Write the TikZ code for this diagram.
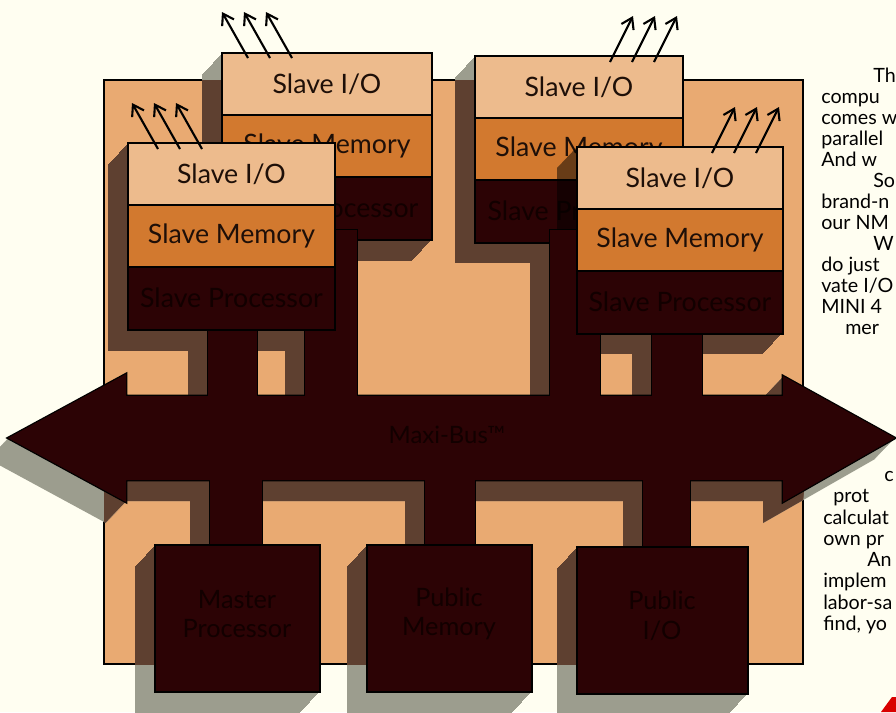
\documentclass[tikz,border=0pt]{standalone}
\usepackage{fontspec}
\setmainfont{Lato}
\usetikzlibrary{arrows.meta}

\definecolor{paper}{HTML}{FFFEF1}
\definecolor{boardtan}{HTML}{E9AA72}
\definecolor{iotan}{HTML}{EDBB8D}
\definecolor{memorange}{HTML}{D2792F}
\definecolor{procred}{HTML}{2C0305}
\definecolor{shadebrown}{HTML}{5E4030}
\definecolor{shadegray}{HTML}{9C9D8E}
\definecolor{inktext}{HTML}{1E0F08}
\definecolor{darktext}{HTML}{120000}

\tikzset{
  layer/.style={draw=black, line width=0.9pt},
  cardlabel/.style={font=\fontsize{19}{22}\selectfont, text=inktext, inner sep=0pt},
  boxlabel/.style={font=\fontsize{18}{21}\selectfont, text=darktext, align=center, inner sep=0pt},
  pagetext/.style={font=\fontsize{14}{17}\selectfont, text=black, anchor=base west, inner sep=0pt},
  ioarrow/.style={line width=1.5pt, -{Straight Barb[length=2.6mm, width=3.4mm]}},
}

% 总线和引线
\newcommand\busparts[1]{%
  \path[#1] (8,438) -- (126,374) -- (126,396) -- (783,396) -- (783,376) -- (895,438)
    -- (783,502) -- (783,480) -- (126,480) -- (126,502) -- cycle;
  \foreach \xa/\xb/\ya/\yb in {208/257/320/400, 305/357/230/400, 550/600/230/400,
      652/702/320/400, 210/262/476/550, 425/475/476/550, 643/690/476/550}
    \path[#1] (\xa,\ya) rectangle (\xb,\yb);
}

% 阴影
\newcommand\shadowshapes{%
  \busparts{fill}
  \foreach \xa/\ya/\xb/\yb in {155/545/320/692, 367/545/532/692, 577/547/748/694,
      222/53/432/240, 475/56/683/242, 128/143/335/330, 577/147/783/333}
    \fill (\xa,\ya) rectangle (\xb,\yb);
}

% 从属板
\newcommand\slavecard[4]{% name, left, top, right
  \filldraw[layer, fill=iotan] (#2,#3) rectangle (#4,{#3+62});
  \filldraw[layer, fill=memorange] (#2,{#3+62}) rectangle (#4,{#3+124});
  \filldraw[layer, fill=procred] (#2,{#3+124}) rectangle (#4,{#3+187});
  \node[cardlabel] (#1-io) at ({(#2+#4)/2},{#3+31}) {Slave I/O};
  \node[cardlabel] (#1-mem) at ({(#2+#4)/2},{#3+93}) {Slave Memory};
  \node[cardlabel, text=darktext] (#1-proc) at ({(#2+#4)/2},{#3+155}) {Slave Processor};
}

\begin{document}
\begin{tikzpicture}[x=0.25mm, y=-0.25mm]
    \useasboundingbox (0,0) rectangle (896,712);
    \fill[paper] (0,0) rectangle (896,712);

    % 底板
    \filldraw[layer, fill=boardtan] (104,80) rectangle (803,664);

    % 阴影
    \begin{scope}[fill=shadegray]
      \foreach \s in {1,...,20} {
        \begin{scope}[shift={({-\s},{1.05*\s})}] \shadowshapes \end{scope}
      }
    \end{scope}
    \begin{scope}
      \clip (104,80) rectangle (803,664);
      \begin{scope}[fill=shadebrown]
        \foreach \s in {1,...,20} {
          \begin{scope}[shift={({-\s},{1.05*\s})}] \shadowshapes \end{scope}
        }
      \end{scope}
    \end{scope}

    % 后排从属板
    \slavecard{bl}{222}{53}{432}
    \slavecard{br}{475}{56}{683}
    \begin{scope}
      \clip (475,56) rectangle (683,242);
      \fill[black, opacity=0.5] (577,147) -- (783,147) -- (783,333) -- (763,354)
        -- (557,354) -- (557,168) -- cycle;
    \end{scope}

    % Maxi-Bus
    \busparts{fill=procred, draw=black, line width=1.8pt}
    \busparts{fill=procred}
    \node[font=\fontsize{17}{20}\selectfont, text=darktext] (bus) at (447,435) {Maxi-Bus™};

    % 公共部件
    \filldraw[layer, fill=procred] (155,545) rectangle (320,692);
    \node[boxlabel] (master) at (237,614) {Master\\Processor};
    \filldraw[layer, fill=procred] (367,545) rectangle (532,692);
    \node[boxlabel] (pubmem) at (449,614) {Public\\Memory};
    \filldraw[layer, fill=procred] (577,547) rectangle (748,694);
    \node[boxlabel] (pubio) at (662,616) {Public\\I/O};

    % 前排从属板
    \slavecard{fl}{128}{143}{335}
    \slavecard{fr}{577}{147}{783}

    % I/O 箭头
    \foreach \tx/\ty/\dx [count=\i] in {248/58/-26, 270/58/-26, 292/58/-26,
        158/149/-26, 180/149/-26, 202/149/-26, 610/62/23, 632/62/23, 654/62/23,
        712/153/23, 734/153/23, 756/153/23} {
      \coordinate (tail\i) at (\tx,\ty);
      \coordinate (tip\i) at ({\tx+\dx},{\ty-46});
      \draw[ioarrow] (tail\i) -- (tip\i);
    }

    % 正文片段
    \foreach \tx/\ty/\words [count=\i] in {873/82/Th, 821/103/compu, 821/124/comes w,
        821/145/parallel, 821/166/And w, 873/187/So, 821/208/brand-n, 821/229/our NM,
        873/250/W, 821/271/do just, 821/292/{vate I/O}, 821/313/MINI 4, 845/334/mer,
        884/481/c, 833/502/prot, 823/524/calculat, 823/545/own pr, 867/566/An,
        823/587/implem, 823/609/labor-sa, 823/630/{find, yo}}
      \node[pagetext] (line\i) at (\tx,\ty) {\words};

    % 角上的红色
    \fill[red!85!black] (881,712) -- (892,697) -- (896,697) -- (896,712) -- cycle;
\end{tikzpicture}
\end{document}
